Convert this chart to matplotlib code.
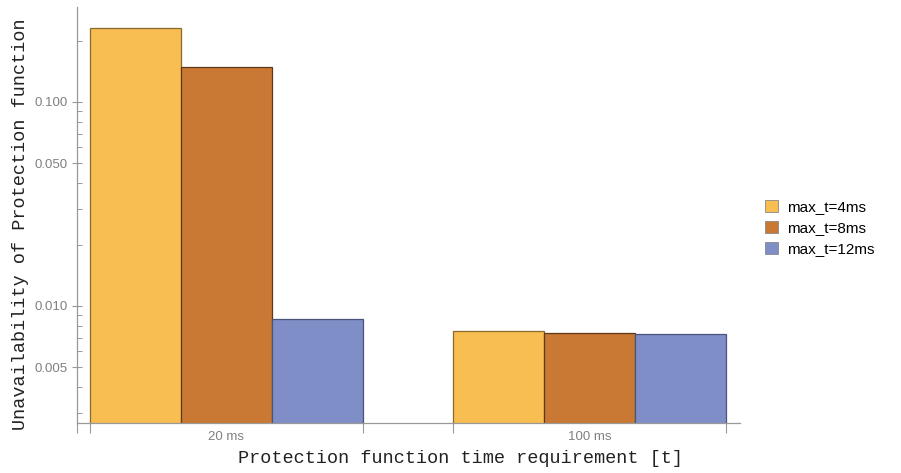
import matplotlib
matplotlib.use("Agg")
import matplotlib.pyplot as plt
import numpy as np
from matplotlib.ticker import FixedLocator, NullFormatter

categories = ["20 ms", "100 ms"]
series_names = ["max_t=4ms", "max_t=8ms", "max_t=12ms"]
values = {
    "max_t=4ms": [0.231, 0.00746],
    "max_t=8ms": [0.1484, 0.00729],
    "max_t=12ms": [0.00853, 0.00721],
}
colors = ["#F9BE52", "#C97933", "#808EC7"]
edgecolors = ["#8A6A2C", "#5E3818", "#4A5378"]
ytick_vals = [0.005, 0.010, 0.050, 0.100]
ytick_labels = ["0.005", "0.010", "0.050", "0.100"]

fig = plt.figure(figsize=(9.01, 4.73), dpi=100)
ax = fig.add_axes([77/901, 50/473, (740-77)/901, (466-50)/473])

n = len(series_names)
group_step = n + 1
for i, name in enumerate(series_names):
    xs = [g * group_step + i for g in range(len(categories))]
    ax.bar(xs, values[name], width=1.0, bottom=1e-4, color=colors[i],
           edgecolor=edgecolors[i], linewidth=0.9, label=name, zorder=2)

ax.set_yscale("log")
ax.set_ylim(0.00267, 0.292)
ax.set_xlim(-0.643, 6.654)

ax.yaxis.set_major_locator(FixedLocator(ytick_vals))
ax.set_yticklabels(ytick_labels)
minor_y = [0.003, 0.004, 0.006, 0.007, 0.008, 0.009, 0.02, 0.03, 0.04,
           0.06, 0.07, 0.08, 0.09, 0.2]
ax.yaxis.set_minor_locator(FixedLocator(minor_y))
ax.yaxis.set_minor_formatter(NullFormatter())
ax.tick_params(axis="y", which="major", direction="inout", length=7,
               width=0.8, color="#999999", labelcolor="#808080", labelsize=9.5,
               pad=3)
ax.tick_params(axis="y", which="minor", direction="in", length=3.5,
               width=0.7, color="#999999")

centers = [g * group_step + (n - 1) / 2 for g in range(len(categories))]
ax.set_xticks(centers)
ax.set_xticklabels(categories)
edges = [-0.643]
for g in range(len(categories)):
    edges += [g * group_step - 0.5, g * group_step + n - 0.5]
ax.xaxis.set_minor_locator(FixedLocator(edges))
ax.xaxis.set_minor_formatter(NullFormatter())
ax.tick_params(axis="x", which="major", length=0, labelcolor="#808080",
               labelsize=9.5, pad=6)
ax.tick_params(axis="x", which="minor", direction="out", length=7,
               width=0.8, color="#999999")

for s in ["top", "right"]:
    ax.spines[s].set_visible(False)
for s in ["left", "bottom"]:
    ax.spines[s].set_color("#999999")
    ax.spines[s].set_linewidth(0.9)

mono = ["Liberation Mono", "DejaVu Sans Mono"]
fig.text(461/901, 1 - 458/473, "Protection function time requirement [t]",
         family=mono, fontsize=13.3, ha="center", va="center", color="#222222")
fig.text(21/901, 1 - 224/473, "Unavailability of Protection function",
         family=mono, fontsize=13.3, ha="center", va="center",
         rotation=90, color="#222222")
for t in ax.get_xticklabels() + ax.get_yticklabels():
    t.set_family(["Liberation Sans", "DejaVu Sans"])

handles, labels = ax.get_legend_handles_labels()
leg = fig.legend(handles, labels, loc="center left",
                 bbox_to_anchor=(751/901, 1 - 228/473), frameon=False,
                 prop={"family": ["Liberation Sans", "DejaVu Sans"], "size": 11},
                 handlelength=0.85, handleheight=0.85, handletextpad=0.6,
                 labelspacing=0.45)
for h in leg.legend_handles:
    h.set_edgecolor("#888888")
    h.set_linewidth(0.6)

fig.savefig("out.png", dpi=100)
